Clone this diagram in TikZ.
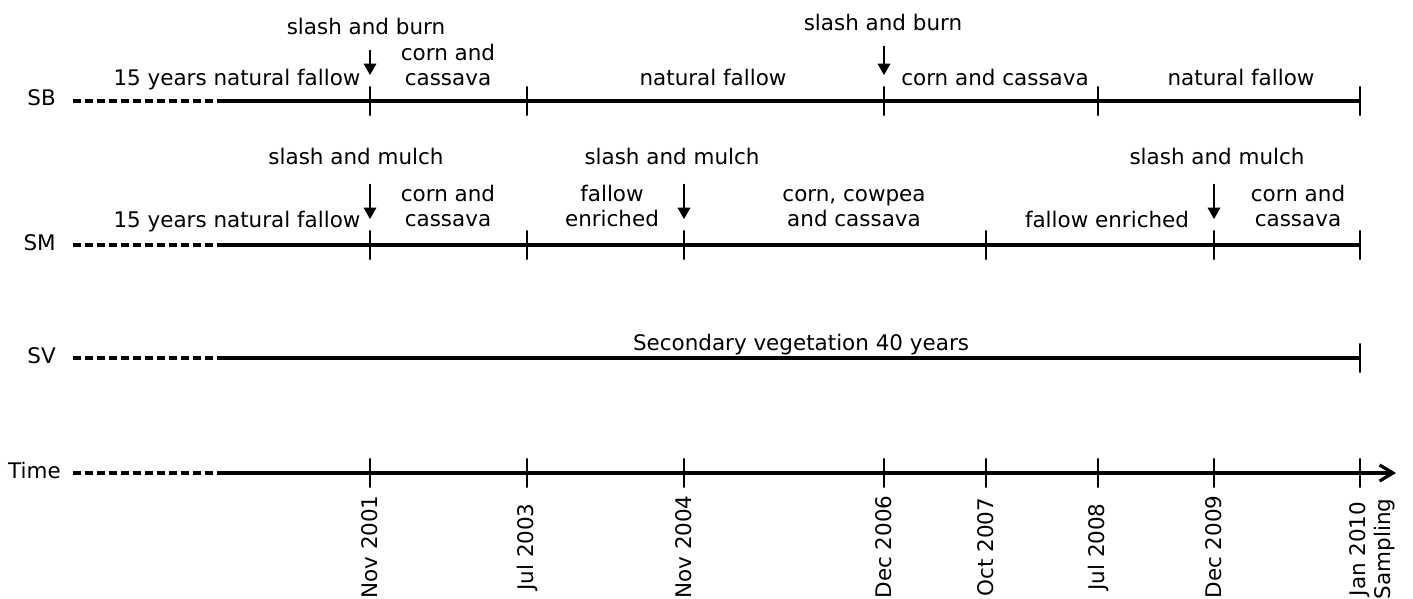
\documentclass[tikz,border=0pt]{standalone}
\usepackage{fontspec}
\setmainfont{DejaVu Sans}
\usetikzlibrary{arrows.meta}

\tikzset{
	every node/.style={font=\fontsize{16.1}{18.9}\selectfont, inner sep=0pt},
	rowLine/.style={line width=2.4pt},
	dashLine/.style={line width=2.4pt, dash pattern=on 6pt off 3pt},
	tickMark/.style={rectangle, draw, line width=0.9pt, minimum width=0pt, minimum height=22pt},
	eventArrow/.style={line width=0.9pt, shorten >=8pt, -{Triangle[length=8.5pt, width=9.5pt]}},
	stage/.style={align=center, anchor=south},
	dateLabel/.style={rotate=90, align=center}
}

\begin{document}
\begin{tikzpicture}[x=0.75pt, y=-0.75pt]
		
		\useasboundingbox (0,0) rectangle (1413,599);
		
		%SB row
		\node (sbLabel) at (56,106) [anchor=base east]{SB};
		\coordinate (sbDash) at (73,101);
		\coordinate (sbStart) at (220,101);
		\node (sbTick1) at (370,101) [tickMark]{};
		\node (sbTick2) at (527,101) [tickMark]{};
		\node (sbTick3) at (884,101) [tickMark]{};
		\node (sbTick4) at (1098,101) [tickMark]{};
		\node (sbTick5) at (1360,101) [tickMark]{};
		\draw[dashLine] (sbDash) -- (sbStart);
		\draw[rowLine] (sbStart) -- (sbTick5);
		
		\node (sbBurn1) at (366,35) [anchor=base]{slash and burn};
		\node (sbBurn2) at (883,31) [anchor=base]{slash and burn};
		\coordinate (sbArrow1) at (370,50);
		\coordinate (sbArrow2) at (884,46);
		\draw[eventArrow] (sbArrow1) -- (sbTick1);
		\draw[eventArrow] (sbArrow2) -- (sbTick3);
		
		\node (sbFallow1) at (237,86) [anchor=base]{15 years natural fallow};
		\node (sbCrop1) at (448,86) [stage]{corn and\\cassava};
		\node (sbFallow2) at (713,86) [anchor=base]{natural fallow};
		\node (sbCrop2) at (995,86) [anchor=base]{corn and cassava};
		\node (sbFallow3) at (1241,86) [anchor=base]{natural fallow};
		
		%SM row
		\node (smLabel) at (56,250) [anchor=base east]{SM};
		\coordinate (smDash) at (73,245);
		\coordinate (smStart) at (220,245);
		\node (smTick1) at (370,245) [tickMark]{};
		\node (smTick2) at (527,245) [tickMark]{};
		\node (smTick3) at (684,245) [tickMark]{};
		\node (smTick4) at (986,245) [tickMark]{};
		\node (smTick5) at (1214,245) [tickMark]{};
		\node (smTick6) at (1360,245) [tickMark]{};
		\draw[dashLine] (smDash) -- (smStart);
		\draw[rowLine] (smStart) -- (smTick6);
		
		\node (smMulch1) at (356,165) [anchor=base]{slash and mulch};
		\node (smMulch2) at (672,165) [anchor=base]{slash and mulch};
		\node (smMulch3) at (1217,165) [anchor=base]{slash and mulch};
		\coordinate (smArrow1) at (370,184);
		\coordinate (smArrow2) at (684,184);
		\coordinate (smArrow3) at (1214,184);
		\draw[eventArrow] (smArrow1) -- (smTick1);
		\draw[eventArrow] (smArrow2) -- (smTick3);
		\draw[eventArrow] (smArrow3) -- (smTick5);
		
		\node (smFallow1) at (237,227) [anchor=base]{15 years natural fallow};
		\node (smCrop1) at (448,227) [stage]{corn and\\cassava};
		\node (smFallow2) at (612,227) [stage]{fallow\\enriched};
		\node (smCrop2) at (854,227) [stage]{corn, cowpea\\and cassava};
		\node (smFallow3) at (1107,227) [anchor=base]{fallow enriched};
		\node (smCrop3) at (1298,227) [stage]{corn and\\cassava};
		
		%SV row
		\node (svLabel) at (56,363) [anchor=base east]{SV};
		\coordinate (svDash) at (73,358);
		\coordinate (svStart) at (220,358);
		\node (svTick1) at (1360,358) [tickMark]{};
		\draw[dashLine] (svDash) -- (svStart);
		\draw[rowLine] (svStart) -- (svTick1);
		\node (svVegetation) at (801,350) [anchor=base]{Secondary vegetation 40 years};
		
		%Time axis
		\node (timeLabel) at (61,478) [anchor=base east]{Time};
		\coordinate (timeDash) at (73,473);
		\coordinate (timeStart) at (220,473);
		\coordinate (timeEnd) at (1396,473);
		\node (timeTick1) at (370,473) [tickMark]{};
		\node (timeTick2) at (527,473) [tickMark]{};
		\node (timeTick3) at (684,473) [tickMark]{};
		\node (timeTick4) at (884,473) [tickMark]{};
		\node (timeTick5) at (986,473) [tickMark]{};
		\node (timeTick6) at (1098,473) [tickMark]{};
		\node (timeTick7) at (1214,473) [tickMark]{};
		\node (timeTick8) at (1360,473) [tickMark]{};
		\draw[dashLine] (timeDash) -- (timeStart);
		\draw[rowLine, -{Straight Barb[length=10pt, width=12pt]}] (timeStart) -- (timeEnd);
		
		\node (dateNov01) at (370,547) [dateLabel]{Nov 2001};
		\node (dateJul03) at (527,547) [dateLabel]{Jul 2003};
		\node (dateNov04) at (684,547) [dateLabel]{Nov 2004};
		\node (dateDec06) at (884,547) [dateLabel]{Dec 2006};
		\node (dateOct07) at (986,547) [dateLabel]{Oct 2007};
		\node (dateJul08) at (1098,547) [dateLabel]{Jul 2008};
		\node (dateDec09) at (1214,547) [dateLabel]{Dec 2009};
		\node (dateJan10) at (1372,549) [dateLabel]{Jan 2010\\Sampling};
		
\end{tikzpicture}
\end{document}
